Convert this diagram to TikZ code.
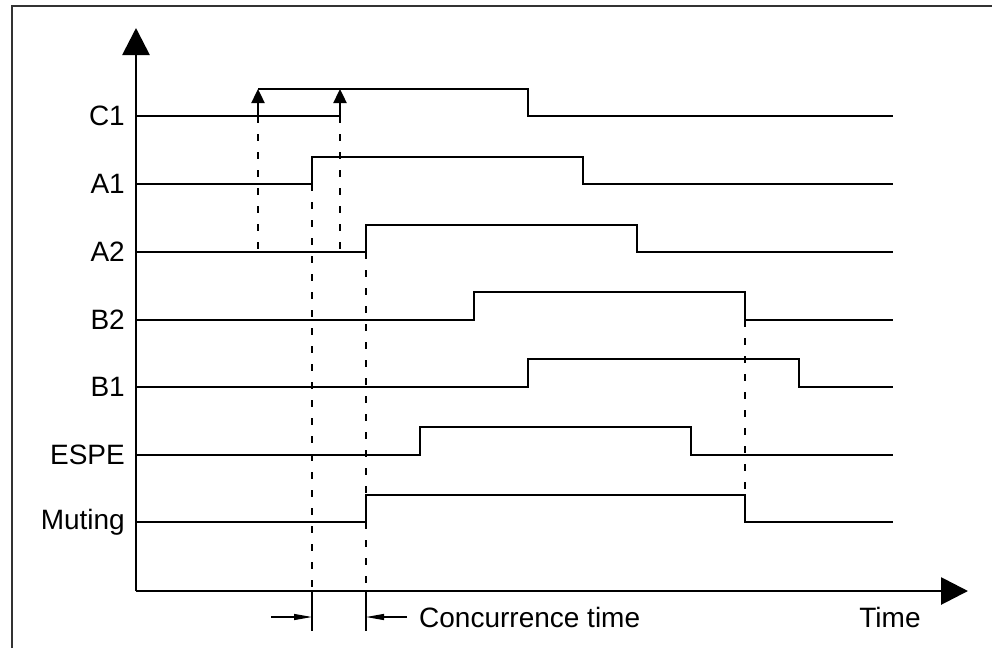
\documentclass[tikz,border=0pt]{standalone}
\usepackage{fontspec}
\setmainfont{Liberation Sans}
\usetikzlibrary{arrows.meta}
\begin{document}
\begin{tikzpicture}[x=1pt,y=-1pt,
  sig/.style={line width=2.8pt,line join=miter},
  axis/.style={line width=2.8pt,-{Triangle[length=27pt,width=27pt]}},
  guide/.style={line width=1.4pt,dash pattern=on 7pt off 11pt},
  thinline/.style={line width=1.2pt},
  edgearrow/.style={line width=2.4pt,-{Triangle[length=14pt,width=13pt]}},
  ctarrow/.style={line width=1.2pt,-{Triangle[length=18pt,width=6pt]}},
  lbl/.style={font=\fontsize{28}{33}\selectfont,inner sep=0pt},
  frame/.style={line width=2pt,draw=black!80}]
\useasboundingbox (0,0) rectangle (992,648);
\draw[frame] (12,648) -- (12,6) -- (992,6);

% axes
\coordinate (O) at (136,591);
\coordinate (ytip) at (136,28);
\coordinate (xtip) at (968,591);
\draw[axis] (O) -- (ytip);
\draw[axis] (O) -- (xtip);

% labels
\node[lbl,anchor=east] (lC1) at (125,116) {C1};
\node[lbl,anchor=east] (lA1) at (125,184) {A1};
\node[lbl,anchor=east] (lA2) at (125,252) {A2};
\node[lbl,anchor=east] (lB2) at (125,320) {B2};
\node[lbl,anchor=east] (lB1) at (125,387) {B1};
\node[lbl,anchor=east] (lESPE) at (125,455) {ESPE};
\node[lbl,anchor=east] (lMut) at (125,522) {Muting};

% C1
\coordinate (c1a) at (136,116);
\coordinate (c1b) at (340,116);
\coordinate (c1r) at (258,116);
\coordinate (c1rh) at (258,89);
\coordinate (c1sh) at (340,89);
\coordinate (c1fh) at (528,89);
\coordinate (c1fl) at (528,116);
\coordinate (c1e) at (893,116);
\draw[sig] (c1a) -- (c1b);
\draw[sig] (c1rh) -- (c1fh) -- (c1fl) -- (c1e);
\draw[edgearrow] (c1r) -- (c1rh);
\draw[edgearrow] (c1b) -- (c1sh);

% A1
\draw[sig] (136,184) coordinate (a1s) -- (312,184) coordinate (a1r) -- (312,157) -- (583,157) -- (583,184) -- (893,184) coordinate (a1e);
% A2
\draw[sig] (136,252) coordinate (a2s) -- (366,252) coordinate (a2r) -- (366,225) -- (637,225) -- (637,252) -- (893,252) coordinate (a2e);
% B2
\draw[sig] (136,320) coordinate (b2s) -- (474,320) -- (474,292) -- (745,292) -- (745,320) coordinate (b2f) -- (893,320) coordinate (b2e);
% B1
\draw[sig] (136,387) coordinate (b1s) -- (528,387) -- (528,359) -- (799,359) -- (799,387) -- (893,387) coordinate (b1e);
% ESPE
\draw[sig] (136,455) coordinate (es) -- (420,455) -- (420,427) -- (691,427) -- (691,455) -- (893,455) coordinate (ee);
% Muting
\draw[sig] (136,522) coordinate (ms) -- (366,522) -- (366,495) coordinate (mr) -- (745,495) coordinate (mf) -- (745,522) -- (893,522) coordinate (me);

% dashed guides
\draw[guide] (c1r) -- (258,252);
\draw[guide] (c1b) -- (340,252);
\draw[guide] (a1r) -- (312,591) coordinate (g1b);
\draw[guide] (a2r) -- (366,591) coordinate (g2b);
\draw[guide] (b2f) -- (mf);

% concurrence time
\coordinate (t1) at (312,631);
\coordinate (t2) at (366,631);
\draw[thinline] (g1b) -- (t1);
\draw[thinline] (g2b) -- (t2);
\coordinate (ca) at (271,617);
\coordinate (ca2) at (312,617);
\coordinate (cb) at (407,617);
\coordinate (cb2) at (366,617);
\draw[ctarrow] (ca) -- (ca2);
\draw[ctarrow] (cb) -- (cb2);
\node[lbl,anchor=west] (ct) at (419,617) {Concurrence time};
\node[lbl] (time) at (890,617) {Time};
\end{tikzpicture}
\end{document}
